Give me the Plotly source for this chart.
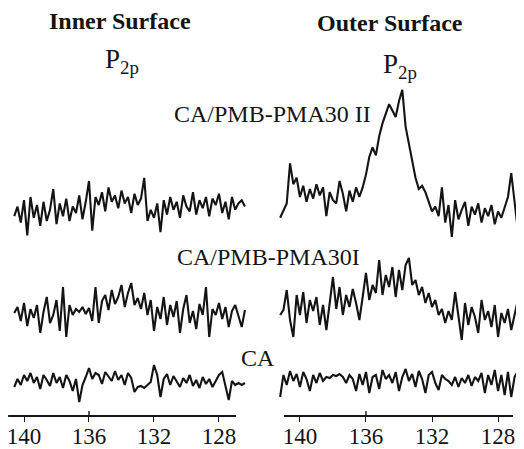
import plotly.graph_objects as go

# Binding energy grids (eV)
be_inner = [140.6, 140.4, 140.2, 140.0, 139.8, 139.6, 139.4, 139.2, 139.0, 138.8, 138.6, 138.4,
            138.2, 138.0, 137.8, 137.6, 137.4, 137.2, 137.0, 136.8, 136.6, 136.4, 136.2, 136.0,
            135.8, 135.6, 135.4, 135.2, 135.0, 134.8, 134.6, 134.4, 134.2, 134.0, 133.8, 133.6,
            133.4, 133.2, 133.0, 132.8, 132.6, 132.4, 132.2, 132.0, 131.8, 131.6, 131.4, 131.2,
            131.0, 130.8, 130.6, 130.4, 130.2, 130.0, 129.8, 129.6, 129.4, 129.2, 129.0, 128.8,
            128.6, 128.4, 128.2, 128.0, 127.8, 127.6, 127.4, 127.2, 127.0, 126.8, 126.6, 126.4]
be_outer = [141.2, 141.0, 140.8, 140.6, 140.4, 140.2, 140.0, 139.8, 139.6, 139.4, 139.2, 139.0,
            138.8, 138.6, 138.4, 138.2, 138.0, 137.8, 137.6, 137.4, 137.2, 137.0, 136.8, 136.6,
            136.4, 136.2, 136.0, 135.8, 135.6, 135.4, 135.2, 135.0, 134.8, 134.6, 134.4, 134.2,
            134.0, 133.8, 133.6, 133.4, 133.2, 133.0, 132.8, 132.6, 132.4, 132.2, 132.0, 131.8,
            131.6, 131.4, 131.2, 131.0, 130.8, 130.6, 130.4, 130.2, 130.0, 129.8, 129.6, 129.4,
            129.2, 129.0, 128.8, 128.6, 128.4, 128.2, 128.0, 127.8, 127.6, 127.4, 127.2, 127.0,
            126.8]

# Intensities (arbitrary units)
inner_pma30_ii = [18, 24, 14, 28, 6, 30, 17, 25, 12, 27, 15, 22,
                  35, 13, 26, 18, 29, 15, 24, 20, 31, 16, 27, 40,
                  9, 30, 25, 33, 21, 36, 27, 31, 23, 34, 26, 30,
                  20, 32, 25, 29, 42, 15, 22, 17, 26, 8, 28, 19,
                  30, 22, 27, 17, 31, 24, 21, 33, 19, 28, 23, 30,
                  18, 29, 25, 32, 20, 27, 16, 30, 22, 26, 28, 24]
outer_pma30_ii = [17, 22, 26, 51, 38, 42, 30, 37, 27, 35, 29, 38,
                  31, 36, 18, 33, 28, 26, 40, 32, 21, 34, 27, 36,
                  30,
                  36, 44, 55, 61, 56, 68, 76, 82, 88, 84, 80, 90,
                  97, 74, 64, 53, 42, 35, 37, 33, 27, 21,
                  24, 18, 36, 14, 25, 5, 28, 16, 22, 27, 12, 24,
                  19, 26, 14, 23, 18, 25, 13, 21, 17, 24, 30, 45,
                  28, 9]
inner_pma30_i = [32, 38, 24, 42, 19, 36, 27, 40, 12, 33, 48, 22,
                 30, 45, 14, 58, 8, 40, 30, 36, 33, 38, 31, 37,
                 24, 58, 22, 44, 50, 35, 55, 41, 48, 60, 38, 52,
                 62, 40, 47, 36, 52, 30, 45, 14, 38, 26, 48, 20,
                 40, 28, 44, 12, 36, 50, 22, 34, 16, 41, 30, 58,
                 8, 36, 30, 42, 26, 38, 18, 34, 40, 30, 18, 35]
outer_pma30_i = [30, 35, 55, 25, 8, 50, 30, 53, 22, 45, 34, 48,
                 20, 40, 15, 44, 68, 36, 58, 30, 50, 38, 56, 42,
                 25, 48, 72, 45, 60, 52, 85, 50, 70, 58, 78, 48,
                 75, 55, 80, 87, 60, 65, 50, 58, 42, 52, 38, 45,
                 30, 36, 22, 34, 25, 53, 30, 5, 42, 20, 38, 28,
                 12, 45, 25, 34, 18, 40, 8, 32, 22, 36, 15, 30,
                 45]
inner_ca = [18, 26, 20, 30, 24, 32, 22, 28, 16, 30, 25, 19,
            32, 22, 28, 17, 30, 24, 14, 26, 3, 20, 28, 37,
            26, 32, 30, 21, 33, 28, 24, 34, 25, 30, 20, 32,
            27, 13, 18, 19, 17, 20, 23, 40, 30, 8, 26, 31,
            20, 29, 24, 18, 27, 22, 30, 19, 25, 17, 28, 21,
            26, 18, 24, 30, 33, 20, 5, 24, 20, 22, 20, 22]
outer_ca = [8, 30, 20, 34, 24, 31, 18, 33, 26, 14, 30, 22,
            32, 24, 28, 27, 30, 29, 31, 28, 22, 30, 26, 14,
            31, 20, 33, 12, 28, 30, 16, 35, 26, 30, 22, 33,
            14, 28, 36, 24, 31, 18, 34, 26, 12, 30, 33, 22,
            15, 30, 26, 24, 20, 28, 18, 27, 22, 30, 19, 28,
            24, 32, 12, 30, 20, 35, 14, 30, 10, 33, 8, 28,
            34]

tick_vals = [140, 136, 132, 128]
tick_text = ["140", "136", "132", "128"]

# The page body has an 8px margin, so the figure is sized to fill the
# remaining window and positions below are given in window pixels.
OFF = 8
W, H = 524 - OFF, 449 - OFF
SERIF = "Liberation Serif, Times New Roman, serif"
INK = "#141414"

def px(x):
    return (x - OFF) / W

def py(y):
    return 1 - (y - OFF) / H

left_dom = [px(8), px(250)]
right_dom = [px(276), px(521)]
left_rng = [140.985, 126.09]
right_rng = [141.45, 126.61]

rows = {
    "bot": ([py(405), py(355)], [0, 50]),
    "mid": ([py(345), py(255)], [0, 90]),
    "top": ([py(245), py(85)], [0, 100]),
}

fig = go.Figure()
line = dict(color=INK, width=2.1)

specs = [
    ("", be_inner, inner_ca, left_dom, left_rng, "bot"),
    ("2", be_outer, outer_ca, right_dom, right_rng, "bot"),
    ("3", be_inner, inner_pma30_i, left_dom, left_rng, "mid"),
    ("4", be_outer, outer_pma30_i, right_dom, right_rng, "mid"),
    ("5", be_inner, inner_pma30_ii, left_dom, left_rng, "top"),
    ("6", be_outer, outer_pma30_ii, right_dom, right_rng, "top"),
]

layout_axes = {}
for suf, xs, ys, dom, rng, row in specs:
    fig.add_trace(go.Scatter(x=xs, y=ys, mode="lines", line=line,
                             xaxis="x" + suf, yaxis="y" + suf,
                             showlegend=False, hoverinfo="skip"))
    ydom, yrng = rows[row]
    xa = dict(domain=dom, range=rng, showgrid=False, zeroline=False,
              showline=False, fixedrange=True)
    if row == "bot":
        xa.update(anchor="free", position=py(416), tickmode="array",
                  tickvals=tick_vals, ticktext=tick_text, ticks="outside",
                  ticklen=5, tickwidth=1.4, tickcolor=INK,
                  ticklabelstandoff=-6, ticklabeloverflow="allow",
                  tickfont=dict(family=SERIF, size=23, color=INK))
    else:
        xa.update(visible=False, anchor="y" + suf)
    layout_axes["xaxis" + suf] = xa
    layout_axes["yaxis" + suf] = dict(domain=ydom, range=yrng, visible=False,
                                      anchor="x" + suf, fixedrange=True)

fig.update_layout(**layout_axes)

shapes = []
for xr, x0, x1 in [("x", 140.98, 126.95), ("x2", 140.97, 127.09)]:
    shapes.append(dict(type="line", xref=xr, yref="paper", x0=x0, x1=x1,
                       y0=py(416), y1=py(416), line=dict(color=INK, width=2)))
    shapes.append(dict(type="line", xref=xr, yref="paper", x0=136, x1=136,
                       y0=py(416), y1=py(411), line=dict(color=INK, width=1.4)))

annotations = [
    dict(text="<b>Inner Surface</b>", x=px(120), y=py(21), size=24),
    dict(text="<b>Outer Surface</b>", x=px(390), y=py(23), size=24),
    dict(text="P<sub>2p</sub>", x=px(122), y=py(61), size=27),
    dict(text="P<sub>2p</sub>", x=px(400), y=py(66), size=27),
    dict(text="CA/PMB-PMA30 II", x=px(272), y=py(114), size=24),
    dict(text="CA/PMB-PMA30I", x=px(268), y=py(257), size=24),
    dict(text="CA", x=px(258), y=py(358), size=24),
]
ann = []
for a in annotations:
    ann.append(dict(text=a["text"], x=a["x"], y=a["y"], xref="paper", yref="paper",
                    xanchor="center", yanchor="middle", showarrow=False,
                    font=dict(family=SERIF, size=a["size"], color=INK)))

fig.update_layout(width=W, height=H, margin=dict(l=0, r=0, t=0, b=0),
                  paper_bgcolor="white", plot_bgcolor="white",
                  shapes=shapes, annotations=ann, showlegend=False)

fig.write_html("out.html")
